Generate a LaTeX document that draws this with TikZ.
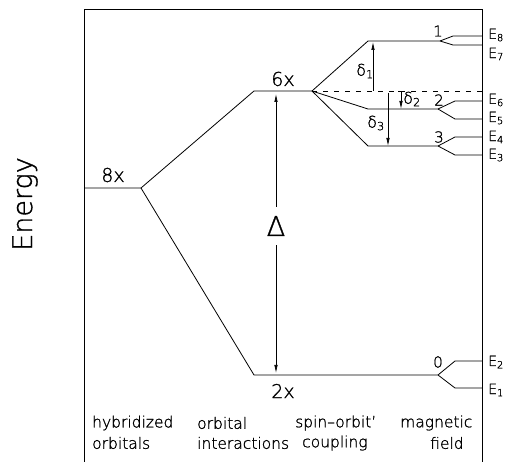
\documentclass[tikz,border=0pt]{standalone}
\usepackage{fontspec}
\setmainfont{DejaVu Sans ExtraLight}[FakeBold=1.2]
\usetikzlibrary{arrows.meta}

\begin{document}
\begin{tikzpicture}[
        x=1pt, y=-1pt,
        level/.style={line width=0.8pt},
        arr/.style={-{Latex[length=8pt,width=3.5pt]}, line width=0.7pt},
        mult/.style={font=\fontsize{19}{19}\selectfont, inner sep=0pt},
        lab/.style={font=\fontsize{15}{15}\selectfont, inner sep=0pt},
        delta/.style={font=\fontsize{16}{16}\selectfont, inner sep=0pt},
        elab/.style={font=\fontsize{14}{14}\selectfont, inner sep=0pt, anchor=west},
        word/.style={font=\fontsize{15.5}{15.5}\selectfont, inner sep=0pt, anchor=west},
    ]

    \useasboundingbox (0,0) rectangle (512,462);

    \draw [level] (84,462) -- (84,9) -- (482,9) -- (482,462);

    \coordinate (h8a) at (84,188);
    \coordinate (h8b) at (141,188);
    \coordinate (o6a) at (254,91);
    \coordinate (o6b) at (312,91);
    \coordinate (o2a) at (254,375);
    \coordinate (o2b) at (438,375);
    \coordinate (s1a) at (368,41);
    \coordinate (s1b) at (440,41);
    \coordinate (s2a) at (368,109);
    \coordinate (s2b) at (438,109);
    \coordinate (s3a) at (368,146);
    \coordinate (s3b) at (438,146);
    \coordinate (dashend) at (482,91);

    \coordinate (e8a) at (453,36);  \coordinate (e8b) at (482,36);
    \coordinate (e7a) at (453,45);  \coordinate (e7b) at (482,45);
    \coordinate (e6a) at (455,101); \coordinate (e6b) at (482,101);
    \coordinate (e5a) at (455,119); \coordinate (e5b) at (482,119);
    \coordinate (e4a) at (455,137); \coordinate (e4b) at (482,137);
    \coordinate (e3a) at (455,155); \coordinate (e3b) at (482,155);
    \coordinate (e2a) at (455,361); \coordinate (e2b) at (482,361);
    \coordinate (e1a) at (455,388); \coordinate (e1b) at (482,388);

    \draw [level] (h8a) -- (h8b) -- (o6a) -- (o6b);
    \draw [level] (h8b) -- (o2a) -- (o2b);
    \draw [level] (o6b) -- (s1a) -- (s1b);
    \draw [level] (o6b) -- (s2a) -- (s2b);
    \draw [level] (o6b) -- (s3a) -- (s3b);
    \draw [level, dash pattern=on 5pt off 6pt] (o6b) -- (dashend);

    \draw [level] (s1b) -- (e8a) -- (e8b);
    \draw [level] (s1b) -- (e7a) -- (e7b);
    \draw [level] (s2b) -- (e6a) -- (e6b);
    \draw [level] (s2b) -- (e5a) -- (e5b);
    \draw [level] (s3b) -- (e4a) -- (e4b);
    \draw [level] (s3b) -- (e3a) -- (e3b);
    \draw [level] (o2b) -- (e2a) -- (e2b);
    \draw [level] (o2b) -- (e1a) -- (e1b);

    \coordinate (gtop) at (276,94);
    \coordinate (gbot) at (276,373);
    \coordinate (d1b) at (373,91);
    \coordinate (d1t) at (373,42);
    \coordinate (d2t) at (401,91);
    \coordinate (d2b) at (401,109);
    \coordinate (d3t) at (388,93);
    \coordinate (d3b) at (388,146);

    \draw [arr, {Latex[length=8pt,width=3.5pt]}-{Latex[length=8pt,width=3.5pt]}] (gtop) -- (gbot);
    \node (gap) [fill=white, inner xsep=2pt, inner ysep=9pt, font=\fontsize{27}{27}\selectfont] at (276,226) {Δ};
    \draw [arr] (d1b) -- (d1t);
    \draw [arr, {Bar[width=6pt]}-{Latex[length=8pt,width=3.5pt]}] (d2t) -- (d2b);
    \draw [arr] (d3t) -- (d3b);

    \node (del1) [delta] at (365,71)  {δ\textsubscript{1}};
    \node (del2) [delta] at (412,99)  {δ\textsubscript{2}};
    \node (del3) [delta] at (376,123) {δ\textsubscript{3}};

    \node (m8) [mult] at (113,175) {8x};
    \node (m6) [mult] at (283,79)  {6x};
    \node (m2) [mult] at (283,391) {2x};

    \node (n1) [lab] at (438,31)  {1};
    \node (n2) [lab] at (439,100) {2};
    \node (n3) [lab] at (439,137) {3};
    \node (n0) [lab] at (438,362) {0};

    \node (E8) [elab] at (488,35)  {E\textsubscript{8}};
    \node (E7) [elab] at (488,54)  {E\textsubscript{7}};
    \node (E6) [elab] at (488,100) {E\textsubscript{6}};
    \node (E5) [elab] at (488,118) {E\textsubscript{5}};
    \node (E4) [elab] at (488,137) {E\textsubscript{4}};
    \node (E3) [elab] at (488,155) {E\textsubscript{3}};
    \node (E2) [elab] at (488,362) {E\textsubscript{2}};
    \node (E1) [elab] at (488,390) {E\textsubscript{1}};

    \node (energy) [rotate=90, font=\fontsize{27}{27}\selectfont] at (25,204) {Energy};

    \node (hyb)   [word] at (92,423)  {hybridized};
    \node (orb)   [word] at (197,423) {orbital};
    \node (spin)  [word] at (295,423) {spin--orbit'};
    \node (magn)  [word] at (400,423) {magnetic};
    \node (orbs)  [word] at (92,443)  {orbitals};
    \node (inter) [word] at (197,443) {interactions};
    \node (coup)  [word] at (302,443) {coupling};
    \node (field) [word] at (430,443) {field};

\end{tikzpicture}
\end{document}
